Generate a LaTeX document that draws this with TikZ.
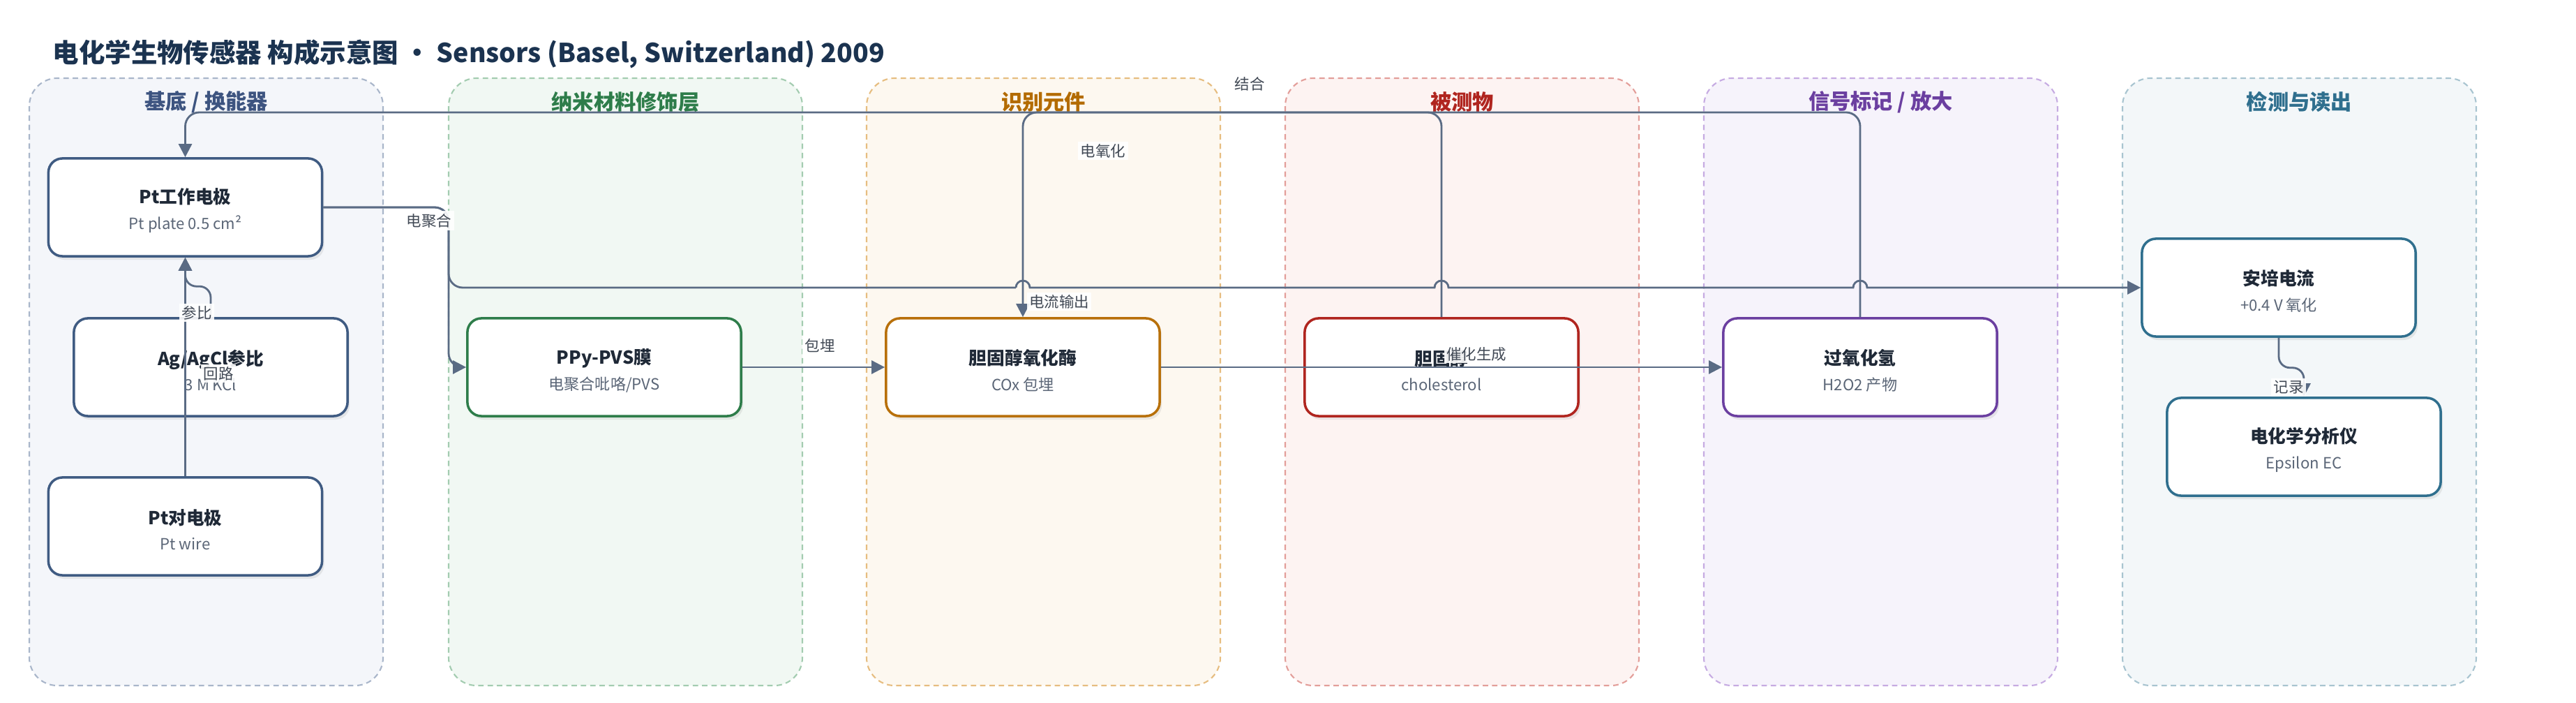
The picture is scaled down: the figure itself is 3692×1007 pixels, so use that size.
\documentclass[tikz,border=0pt]{standalone}
\usepackage{fontspec}
\setmainfont{Noto Sans CJK SC}
\usetikzlibrary{arrows.meta,calc,shadows}

\definecolor{wirec}{HTML}{5A6B84}
\definecolor{headc}{HTML}{1B3350}
\definecolor{maintxt}{HTML}{1F2937}
\definecolor{subtxt}{HTML}{5B6677}
% lane colours: L = dashed line, F = fill, T = title, B = box border
\definecolor{subsL}{HTML}{A9B6CA}\definecolor{subsF}{HTML}{F4F6FA}\definecolor{subsT}{HTML}{3D5480}\definecolor{subsB}{HTML}{3F5B82}
\definecolor{nanoL}{HTML}{A3CCB0}\definecolor{nanoF}{HTML}{F1F8F3}\definecolor{nanoT}{HTML}{2E7D4A}\definecolor{nanoB}{HTML}{2E7D4A}
\definecolor{recgL}{HTML}{E6BD80}\definecolor{recgF}{HTML}{FDF8F0}\definecolor{recgT}{HTML}{B36B00}\definecolor{recgB}{HTML}{B8700A}
\definecolor{analL}{HTML}{E39E9A}\definecolor{analF}{HTML}{FDF3F2}\definecolor{analT}{HTML}{B0251F}\definecolor{analB}{HTML}{B0251F}
\definecolor{signL}{HTML}{C6ABE2}\definecolor{signF}{HTML}{F6F3FB}\definecolor{signT}{HTML}{6B3FA0}\definecolor{signB}{HTML}{6B3FA0}
\definecolor{readL}{HTML}{A8C4D0}\definecolor{readF}{HTML}{F3F7F9}\definecolor{readT}{HTML}{2F6F8E}\definecolor{readB}{HTML}{2F6F8E}

\newcommand{\nm}[2]{{\fontsize{7.3}{9.4}\selectfont\bfseries\rule{0pt}{9pt}#1}\\[1pt]{\fontsize{6.3}{8}\selectfont\color{subtxt}#2}}

\tikzset{
  lane/.style={dash pattern=on 2.2pt off 1.6pt, line width=0.6pt, rounded corners=0.4cm},
  lanetitle/.style={font=\fontsize{8.6}{10}\selectfont\bfseries},
  part/.style={draw=#1, line width=1pt, fill=white, rounded corners=0.2cm,
    minimum width=3.92cm, minimum height=1.4cm, align=center, text=maintxt,
    font=\fontsize{7.3}{9.4}\selectfont,
    drop shadow={shadow xshift=0.03cm, shadow yshift=-0.05cm, opacity=0.15}},
  wire/.style={draw=wirec, line width=0.8pt, rounded corners=0.2cm},
  flow/.style={wire, -{Triangle[length=0.19cm, width=0.19cm]}},
  lbl/.style={fill=white, fill opacity=0.9, text opacity=1, inner sep=1pt,
    text=maintxt!85, font=\fontsize{6.1}{7}\selectfont},
}

\begin{document}
\begin{tikzpicture}[x=0.01cm, y=-0.01cm]
  \useasboundingbox (0,0) rectangle (3692,1007);

  \node[anchor=west, inner sep=0pt, text=headc, font=\fontsize{10.65}{13}\selectfont\bfseries] (title) at (75,77)
    {电化学生物传感器 构成示意图 · Sensors (Basel, Switzerland) 2009};

  % lanes
  \foreach \x/\tone/\ltitle [count=\i] in {42/subs/{基底 / 换能器}, 643/nano/{纳米材料修饰层},
      1242/recg/{识别元件}, 1842/anal/{被测物}, 2442/sign/{信号标记 / 放大}, 3042/read/{检测与读出}}{
    \draw[lane, draw=\tone L, fill=\tone F] (\x,112) rectangle ++(507,870);
    \node[lanetitle, text=\tone T] (lane\i) at (\x+253.5,146) {\ltitle};
  }

  % parts
  \node[part=subsB] (ptwe) at (265.5,297) {\nm{Pt工作电极}{Pt plate 0.5 cm²}};
  \node[part=subsB] (agcl) at (302,526) {\nm{Ag/AgCl参比}{3 M KCl}};
  \node[part=subsB] (ptce) at (265.5,754) {\nm{Pt对电极}{Pt wire}};
  \node[part=nanoB] (ppy) at (866,526) {\nm{PPy-PVS膜}{电聚合吡咯/PVS}};
  \node[part=recgB] (cox) at (1466,526) {\nm{胆固醇氧化酶}{COx 包埋}};
  \node[part=analB] (chol) at (2066,526) {\nm{胆固醇}{cholesterol}};
  \node[part=signB] (hpo) at (2666,526) {\nm{过氧化氢}{H2O2 产物}};
  \node[part=readB] (amp) at (3266,412) {\nm{安培电流}{+0.4 V 氧化}};
  \node[part=readB] (ana) at (3302,640) {\nm{电化学分析仪}{Epsilon EC}};

  \coordinate (jn) at (643,412);
  \coordinate (top) at (0,161);

  % connectors
  \draw[wire] (ptwe.east) -| (jn) -- ($(cox.north |- jn)+(-10,0)$);
  \draw[flow, sharp corners] ($(cox.north |- jn)+(-10,0)$) arc[start angle=180, end angle=360, radius=10]
    -- ($(chol.north |- jn)+(-10,0)$) arc[start angle=180, end angle=360, radius=10]
    -- ($(hpo.north |- jn)+(-10,0)$) arc[start angle=180, end angle=360, radius=10]
    -- (amp.west);
  \draw[flow] (ptwe.east) -| (jn |- ppy.west) -- (ppy.west);
  \draw[flow] (ppy) -- (cox);
  \draw[flow] (cox) -- (hpo);
  \draw[flow] (chol.north) -- (chol.north |- top) -| (cox.north);
  \draw[flow] (hpo.north) -- (hpo.north |- top) -| (ptwe.north);
  \draw[flow, rounded corners=0.16cm] (agcl.north) -- ++(0,-44) -| (ptwe.south);
  \draw[flow] (ptce) -- (ptwe);
  \draw[flow, rounded corners=0.16cm] (amp.south) -- ++(0,43) -| (ana.north);

  % labels
  \node[lbl] (lb-poly) at (615,316) {电聚合};
  \node[lbl] (lb-ref) at (282,448) {参比};
  \node[lbl] (lb-loop) at (313,535) {回路};
  \node[lbl] (lb-embed) at (1175,495) {包埋};
  \node[lbl] (lb-ox) at (1581,216) {电氧化};
  \node[lbl] (lb-out) at (1518,432) {电流输出};
  \node[lbl] (lb-bind) at (1791,120) {结合};
  \node[lbl] (lb-cat) at (2116,507) {催化生成};
  \node[lbl] (lb-rec) at (3280,555) {记录};
\end{tikzpicture}
\end{document}
